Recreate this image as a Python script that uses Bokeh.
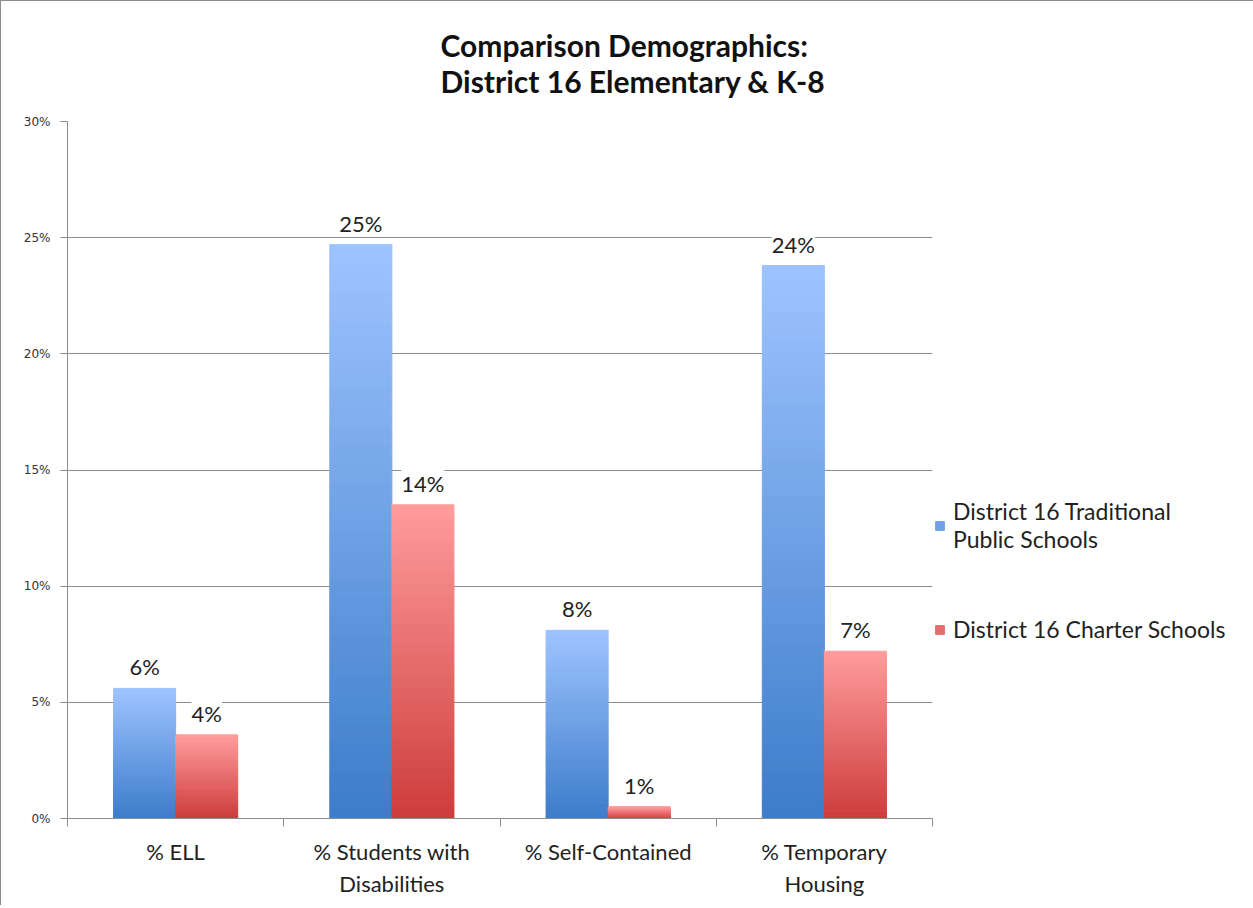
import numpy as np
from bokeh.plotting import figure
from bokeh.models import (Range1d, FixedTicker, ColumnDataSource, LabelSet,
                          Legend, LegendItem)
from bokeh.core.properties import value
from bokeh.embed import file_html
from bokeh.resources import INLINE

# ---------------- data ----------------
categories = ["% ELL", "% Students with\nDisabilities", "% Self-Contained", "% Temporary\nHousing"]
traditional = [5.6, 24.7, 8.1, 23.8]
charter = [3.6, 13.5, 0.5, 7.2]
series_names = ["District 16 Traditional\nPublic Schools", "District 16 Charter Schools"]
y_ticks = [0, 5, 10, 15, 20, 25, 30]
title_text = "Comparison Demographics:\nDistrict 16 Elementary & K-8"

# ---------------- styles ----------------
BLUE_TOP, BLUE_BOT = (158, 196, 255), (60, 124, 202)
RED_TOP, RED_BOT = (255, 156, 156), (205, 60, 60)
BAR_W = 0.287
N_SLICES = 60
FONT = "Lato"
GRAY = "#8c8c8c"


def hexc(c):
    return "#%02x%02x%02x" % tuple(int(round(v)) for v in c)


def gradient_bars(values, side, top_c, bot_c):
    left, right, bottom, top, color = [], [], [], [], []
    for i, v in enumerate(values):
        center = i + 0.5
        l = center - BAR_W if side < 0 else center
        r = center if side < 0 else center + BAR_W
        edges = np.linspace(0, v, N_SLICES + 1)
        for k in range(N_SLICES):
            t = (k + 0.5) / N_SLICES
            c = [b + (tp - b) * t for b, tp in zip(bot_c, top_c)]
            left.append(l); right.append(r)
            bottom.append(edges[k]); top.append(edges[k + 1])
            color.append(hexc(c))
    return ColumnDataSource(dict(left=left, right=right, bottom=bottom, top=top, color=color))


p = figure(frame_width=865, frame_height=697, output_backend="svg", toolbar_location=None,
           x_range=Range1d(0, len(categories)), y_range=Range1d(0, 30),
           min_border_left=66, min_border_right=319, min_border_top=120,
           min_border_bottom=87, title=title_text)
p.styles = {"border-left": "1px solid #8c8c8c", "border-top": "1px solid #8c8c8c"}

p.title.align = "left"
p.title.offset = 373
p.title.text_font = FONT
p.title.text_font_style = "bold"
p.title.text_font_size = "30px"
p.title.text_color = "#111111"
p.title.standoff = 46

p.outline_line_color = None
p.xgrid.grid_line_color = None
p.ygrid.grid_line_color = GRAY
p.ygrid.ticker = FixedTicker(ticks=y_ticks)

# bars
src_t = gradient_bars(traditional, -1, BLUE_TOP, BLUE_BOT)
src_c = gradient_bars(charter, +1, RED_TOP, RED_BOT)
rt = p.quad(left="left", right="right", bottom="bottom", top="top", fill_color="color",
            line_color="color", line_width=1, source=src_t)
rc = p.quad(left="left", right="right", bottom="bottom", top="top", fill_color="color",
            line_color="color", line_width=1, source=src_c)

# data labels
lx, ly, lt = [], [], []
for i, (a, b) in enumerate(zip(traditional, charter)):
    lx += [i + 0.5 - BAR_W / 2, i + 0.5 + BAR_W / 2]
    ly += [a, b]
    lt += ["%d%%" % int(np.floor(a + 0.5)), "%d%%" % int(np.floor(b + 0.5))]
lab_src = ColumnDataSource(dict(x=lx, y=ly, text=lt))
p.add_layout(LabelSet(x="x", y="y", text="text", source=lab_src, text_align="center",
                      text_baseline="bottom", y_offset=8, text_font=value(FONT),
                      text_font_size=value("22px"), text_color="#222222",
                      background_fill_color="white"))

# x axis
xa = p.xaxis[0]
xa.ticker = FixedTicker(ticks=[i + 0.5 for i in range(len(categories))],
                        minor_ticks=list(range(len(categories) + 1)))
xa.major_label_overrides = {i + 0.5: c for i, c in enumerate(categories)}
xa.major_tick_line_color = None
xa.minor_tick_line_color = GRAY
xa.minor_tick_out = 8
xa.minor_tick_in = 0
xa.axis_line_color = GRAY
xa.major_label_text_font = FONT
xa.major_label_text_font_size = "22px"
xa.major_label_text_color = "#222222"
xa.major_label_standoff = 11

# y axis
ya = p.yaxis[0]
ya.ticker = FixedTicker(ticks=y_ticks)
ya.major_label_overrides = {t: "%d%%" % t for t in y_ticks}
ya.major_tick_out = 7
ya.major_tick_in = 0
ya.minor_tick_line_color = None
ya.major_tick_line_color = GRAY
ya.axis_line_color = GRAY
ya.major_label_text_font = "DejaVu Sans"
ya.major_label_text_font_size = "12px"
ya.major_label_text_color = "#333333"
ya.major_label_standoff = 10

# legend (glyph colour taken from a middle slice of each series)
legend = Legend(items=[LegendItem(label=series_names[0], renderers=[rt], index=N_SLICES // 2),
                       LegendItem(label=series_names[1], renderers=[rc], index=N_SLICES // 2)],
                location=(2, 175), border_line_color=None, background_fill_alpha=0,
                glyph_width=11, glyph_height=11, label_text_font=FONT,
                label_text_font_size="23px", label_text_color="#222222",
                label_text_line_height=1.35,
                spacing=62, padding=4, margin=0, label_standoff=8)
p.add_layout(legend, "right")

open("out.html", "w").write(file_html(p, INLINE))
